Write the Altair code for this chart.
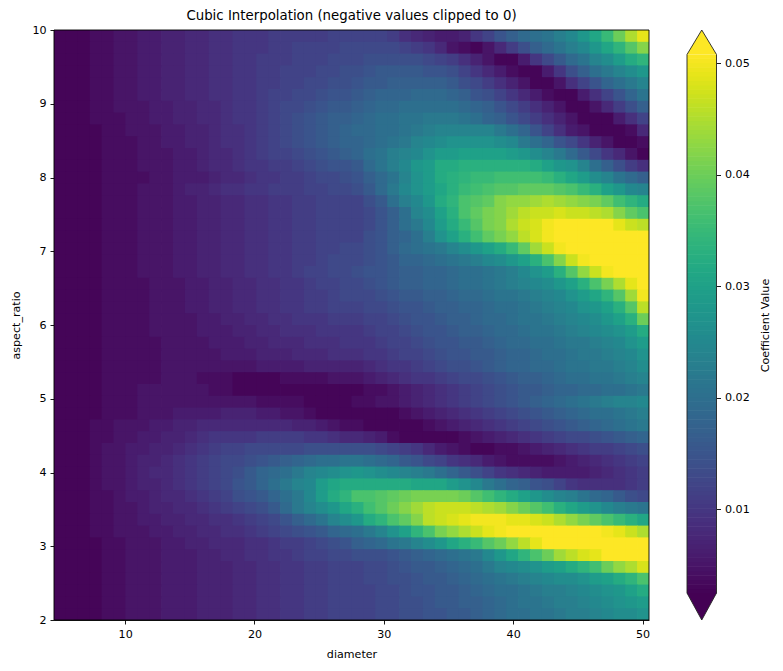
import altair as alt
import numpy as np
import pandas as pd

FONT = "DejaVu Sans"
title_text = "Cubic Interpolation (negative values clipped to 0)"
bar_title = "Coefficient Value"
x_ticks = [10, 20, 30, 40, 50]
y_ticks = [2, 3, 4, 5, 6, 7, 8, 9, 10]
bar_ticks = [0.01, 0.02, 0.03, 0.04, 0.05]
vmin, vmax = 0.00247, 0.0508
bar_low, bar_high = 0.00005, 0.053

# Coefficient values in thousandths, top row (aspect_ratio about 10) first,
# left column (diameter about 5) first.
rows = [
[3,3,3,4,4,5,5,6,6,7,7,8,8,9,9,10,10,10,11,11,11,11,11,12,12, 12,12,12,11,9,8,7,6,6,7,10,12,15,17,19,20,21,23,25,28,31,35,40,45,49],
[3,3,3,4,4,5,5,6,6,7,7,8,8,9,9,10,10,10,11,11,12,12,12,12,13, 13,13,13,13,12,11,10,8,5,4,3,5,8,11,14,17,19,21,23,25,28,31,34,38,42],
[3,3,3,4,4,5,5,6,6,7,7,8,8,9,9,10,10,11,11,11,12,12,12,13,13, 13,14,14,14,14,14,13,12,11,9,7,5,3,3,6,10,13,16,19,21,24,26,29,32,34],
[3,3,3,4,4,5,5,6,6,7,7,8,8,9,9,10,10,11,11,12,12,12,13,13,14, 14,15,16,16,16,16,15,15,14,12,10,8,6,4,3,3,6,10,14,17,20,22,24,26,28],
[3,3,3,4,4,5,5,6,6,7,7,8,8,9,9,10,10,11,11,12,12,13,13,14,14, 15,16,16,17,17,17,17,17,16,14,13,11,9,7,5,3,3,5,9,12,15,18,20,22,24],
[3,3,3,4,4,5,5,6,6,7,7,8,8,9,9,10,10,11,12,12,13,13,14,15,15, 16,17,18,18,18,19,19,19,18,17,15,14,12,10,8,6,4,3,3,6,9,12,15,18,21],
[3,3,3,4,4,5,5,5,6,6,7,7,8,8,9,10,10,11,12,13,13,14,15,16,16, 17,18,19,19,20,20,20,20,20,19,18,17,15,13,11,9,7,5,3,3,5,8,11,14,17],
[3,3,3,4,4,4,5,5,6,6,7,7,8,8,9,10,10,11,12,13,14,15,16,17,17, 18,19,20,20,21,21,22,22,22,21,20,18,17,15,13,11,9,7,5,3,3,3,6,9,12],
[3,3,3,3,4,4,5,5,5,6,6,7,7,8,9,9,10,11,12,13,14,15,16,17,18, 19,19,20,20,21,22,23,24,24,24,24,24,22,20,18,15,12,9,6,5,3,3,3,4,8],
[3,3,3,3,4,4,4,5,5,6,6,7,7,8,9,9,10,11,12,13,14,15,16,17,18, 18,19,20,21,22,24,25,26,27,27,27,27,26,25,22,20,18,15,13,10,7,5,3,3,4],
[3,3,3,3,4,4,4,5,5,5,6,6,7,8,8,9,10,11,12,12,13,14,15,16,17, 18,20,21,23,24,25,27,29,29,30,30,30,30,29,28,26,24,22,19,16,13,10,8,5,3],
[3,3,3,3,4,4,4,5,5,5,6,6,7,8,8,9,10,10,11,11,12,13,14,15,15, 16,19,21,23,25,28,29,32,32,33,33,33,33,33,33,32,30,28,27,24,20,17,14,11,9],
[3,3,3,3,4,4,4,4,5,5,6,6,6,7,8,8,9,10,10,11,11,12,13,13,14, 15,17,19,21,24,27,29,32,33,34,35,35,36,36,36,36,35,33,31,29,26,24,21,19,17],
[3,3,3,3,4,4,4,5,5,5,6,7,7,8,9,9,10,10,11,11,11,12,12,13,13, 14,16,19,22,25,27,29,31,33,35,36,37,38,38,39,39,39,38,37,35,33,30,28,25,24],
[3,3,3,3,4,4,4,5,5,5,6,6,7,7,8,8,9,9,10,10,11,11,12,12,12, 12,14,16,20,23,25,28,32,34,37,38,39,42,43,43,44,45,44,43,42,41,39,36,34,32],
[3,3,3,3,4,4,4,5,5,5,6,6,7,7,8,8,9,9,10,10,11,11,12,12,12, 12,13,15,17,20,24,26,30,33,37,39,41,42,44,46,47,47,48,47,47,46,45,42,39,37],
[3,3,3,3,4,4,4,5,5,5,6,6,7,7,8,8,9,9,10,10,11,11,12,12,12, 12,13,15,17,20,22,25,29,32,35,38,41,42,45,47,48,50,52,52,52,52,51,49,47,46],
[3,3,3,3,4,4,4,5,5,5,6,6,7,7,8,8,9,9,10,10,11,11,12,12,12, 12,14,15,17,18,20,23,27,30,33,36,39,41,43,46,48,50,52,52,52,52,52,52,52,52],
[3,3,3,3,4,4,4,5,5,5,6,6,7,7,8,8,9,9,10,10,11,11,12,12,13, 13,14,15,17,19,20,21,22,24,26,28,30,32,35,39,44,47,50,52,52,52,52,52,52,52],
[3,3,3,3,4,4,4,5,5,5,6,6,7,7,8,8,9,9,10,10,11,11,12,13,13, 13,14,15,16,18,18,19,20,21,22,23,25,26,28,30,33,37,42,47,50,52,52,52,52,52],
[3,3,3,3,4,4,4,5,5,5,6,6,7,7,8,8,9,9,10,10,11,12,12,13,13, 14,15,15,16,17,17,18,18,19,20,20,21,22,23,25,27,29,33,38,43,47,50,52,52,52],
[3,3,3,3,4,4,4,4,5,5,5,6,6,7,7,8,8,9,9,10,10,11,12,12,13, 13,14,15,16,17,17,18,18,19,20,20,21,22,23,24,25,26,28,30,33,37,41,45,49,52],
[3,3,3,3,4,4,4,4,5,5,5,6,6,7,7,8,8,9,9,10,10,11,11,12,13, 13,13,14,15,16,16,17,17,18,19,19,20,21,21,22,23,24,25,27,29,31,34,38,44,50],
[3,3,3,3,4,4,4,4,5,5,5,6,6,7,7,8,8,9,9,10,10,11,11,12,12, 12,13,13,14,15,15,16,17,17,18,18,19,20,20,21,22,23,24,25,27,28,30,33,38,46],
[3,3,3,3,4,4,4,4,5,5,5,5,6,6,7,7,8,8,9,9,10,10,10,11,11, 11,12,12,13,14,15,15,16,17,17,18,19,19,20,21,21,22,23,24,25,26,28,30,33,40],
[3,3,3,3,4,4,4,4,5,5,5,5,6,6,6,7,7,8,8,9,9,9,10,10,10, 10,11,12,12,13,14,15,15,16,17,17,18,19,19,20,21,21,22,23,24,25,26,27,29,32],
[3,3,3,3,4,4,4,4,4,5,5,5,5,6,6,6,7,7,8,8,8,9,9,9,10, 10,10,11,12,12,13,14,15,15,16,16,17,18,19,19,20,20,21,22,22,23,24,25,27,29],
[3,3,3,3,4,4,4,4,4,5,5,5,5,5,6,6,6,7,7,7,8,8,8,9,9, 9,10,10,11,12,12,13,14,15,15,16,16,17,18,18,19,20,20,21,22,22,23,24,25,27],
[3,3,3,3,4,4,4,4,4,5,5,5,5,5,5,5,5,6,6,6,6,7,7,7,7, 7,8,9,10,10,11,12,13,14,14,15,16,17,18,18,19,19,20,21,21,22,22,23,24,26],
[3,3,3,3,4,4,4,4,4,5,5,5,4,4,4,3,3,3,3,4,4,4,4,5,5, 5,6,7,8,9,10,10,11,12,13,13,14,15,16,17,17,18,19,20,20,21,21,22,23,24],
[3,3,3,3,4,4,4,5,5,5,5,5,5,4,4,3,3,3,3,3,3,3,3,3,3, 3,4,4,5,6,7,8,9,10,11,12,13,14,15,16,16,17,18,18,19,19,20,20,21,22],
[3,3,3,3,4,4,4,5,5,5,5,5,5,5,5,5,5,4,4,4,4,3,3,3,3, 4,4,5,5,6,7,8,9,10,11,12,13,14,15,16,17,18,19,20,21,22,23,24,24,25],
[3,3,3,3,4,4,4,5,5,5,6,6,6,6,7,7,7,6,6,5,5,4,3,3,3, 3,3,3,3,4,5,6,7,8,9,10,11,12,13,14,15,16,17,18,19,20,20,21,22,23],
[3,3,3,4,4,5,5,5,6,6,7,7,8,8,8,8,8,8,8,8,7,7,6,5,4, 4,3,3,3,3,3,4,5,6,7,8,9,10,11,12,13,14,15,16,17,18,19,20,21,22],
[3,3,3,4,4,5,5,6,6,7,7,8,9,10,10,10,10,11,11,11,11,10,10,9,8, 8,7,6,4,3,3,3,3,3,4,5,6,7,8,9,10,11,12,13,13,14,15,16,17,18],
[3,3,3,4,5,5,6,6,7,7,8,9,10,11,12,12,13,13,13,13,13,14,14,14,14, 14,14,13,12,11,10,8,6,5,4,3,3,4,4,5,6,7,8,9,10,11,11,12,13,14],
[3,3,3,4,5,5,6,7,7,8,9,10,11,12,13,13,14,15,16,17,18,19,20,20,21, 21,20,19,18,16,15,13,12,10,9,8,6,5,4,4,4,4,5,6,7,8,9,10,11,12],
[3,3,3,4,5,5,6,7,8,8,9,10,11,12,13,14,16,18,19,20,22,24,25,26,27, 28,27,26,25,24,23,22,20,18,16,14,12,10,9,8,7,6,6,6,6,7,8,9,10,11],
[3,3,3,4,5,5,6,7,7,8,9,10,11,12,13,15,16,18,20,22,24,25,29,31,32, 32,32,32,32,32,31,31,31,29,27,25,22,20,18,17,15,14,12,10,9,9,9,9,10,11],
[3,3,3,4,4,5,6,6,7,8,8,9,10,11,12,14,15,16,18,20,22,25,29,32,34, 37,37,38,39,40,41,41,41,41,40,38,36,34,32,30,28,26,24,23,21,19,18,16,14,13],
[3,3,3,4,4,5,5,6,7,7,8,8,9,10,11,12,13,14,16,19,22,24,26,28,31, 33,36,38,40,42,44,46,47,47,47,46,45,44,42,40,38,36,33,31,29,27,25,23,22,21],
[3,3,3,4,4,5,5,6,6,7,7,8,8,9,9,10,11,12,13,15,17,19,21,24,26, 28,32,34,37,39,42,46,47,48,49,50,50,50,49,49,48,47,45,43,41,39,37,35,33,31],
[3,3,3,4,4,5,5,5,6,6,7,7,8,8,9,9,10,11,12,13,14,15,16,18,19, 20,22,24,27,30,34,37,41,43,45,47,49,50,52,52,52,52,52,52,51,51,50,49,47,45],
[3,3,3,3,4,4,5,5,5,6,6,7,7,8,8,8,9,9,10,11,11,12,13,14,15, 17,18,19,21,22,24,26,28,31,33,35,38,40,43,46,49,51,52,52,52,52,52,52,52,52],
[3,3,3,3,4,4,5,5,5,6,6,6,7,7,8,8,9,9,10,10,11,12,12,13,13, 14,14,14,15,16,17,18,19,20,21,22,25,28,31,34,37,40,44,46,48,49,51,52,52,52],
[3,3,3,3,4,4,5,5,5,6,6,6,7,7,7,8,8,9,9,10,10,11,11,12,12, 12,13,13,14,15,16,16,17,18,19,20,22,24,25,26,27,29,30,32,34,36,40,43,45,48],
[3,3,3,3,4,4,5,5,5,6,6,6,7,7,7,8,8,9,9,10,10,11,11,12,12, 12,13,13,14,14,15,16,16,17,18,19,20,21,22,23,24,25,26,26,27,29,30,32,34,37],
[3,3,3,3,4,4,5,5,5,6,6,6,7,7,7,8,8,9,9,10,10,11,11,12,12, 12,12,13,13,14,15,15,16,16,17,18,19,20,20,21,22,23,23,24,25,26,27,28,30,32],
[3,3,3,3,4,4,5,5,5,6,6,6,7,7,7,8,8,9,9,10,10,11,11,12,12, 12,12,13,13,14,14,15,16,16,17,17,18,19,20,21,21,22,23,23,24,25,26,27,28,29],
[3,3,3,3,4,4,5,5,5,6,6,6,7,7,7,8,8,9,9,10,10,11,11,12,12, 12,12,13,13,14,14,15,15,16,16,17,18,19,20,20,21,21,22,23,23,24,25,26,26,27],
]

n_rows, n_cols = len(rows), len(rows[0])
x_edges = np.linspace(4.5, 50.5, n_cols + 1)
y_edges = np.linspace(10, 2, n_rows + 1)
overlap_x, overlap_y = 0.06, 0.03

cells = pd.DataFrame(
    [
        {
            "x0": x_edges[c], "x1": x_edges[c + 1] + overlap_x,
            "y0": y_edges[r + 1] - overlap_y, "y1": y_edges[r],
            "v": rows[r][c] * 0.001,
        }
        for r in range(n_rows)
        for c in range(n_cols)
    ]
)

color_scale = alt.Scale(scheme="viridis", domain=[vmin, vmax], clamp=True)
x_scale = alt.Scale(domain=[4.5, 50.5], nice=False, zero=False)
y_scale = alt.Scale(domain=[2, 10], nice=False, zero=False)

axis_style = dict(
    grid=False, labelFont=FONT, labelFontSize=11.1, titleFont=FONT, titleFontSize=11.1,
    titleFontWeight="normal", labelColor="black", titleColor="black", tickColor="black",
    domainColor="black", tickSize=4, tickWidth=0.9, domainWidth=0.9, labelPadding=4,
)

heat = alt.Chart(cells).mark_rect(clip=True).encode(
    x=alt.X("x0:Q", scale=x_scale, title="diameter",
            axis=alt.Axis(values=x_ticks, format="d", titlePadding=9, **axis_style)),
    x2="x1:Q",
    y=alt.Y("y0:Q", scale=y_scale, title="aspect_ratio",
            axis=alt.Axis(values=y_ticks, format="d", titlePadding=10, **axis_style)),
    y2="y1:Q",
    color=alt.Color("v:Q", scale=color_scale, legend=None),
)

frame = alt.Chart(pd.DataFrame({"x0": [4.5], "x1": [50.5], "y0": [2], "y1": [10]})).mark_rect(
    fill="transparent", stroke="black", strokeWidth=0.9
).encode(x=alt.X("x0:Q", scale=x_scale), x2="x1:Q", y=alt.Y("y0:Q", scale=y_scale), y2="y1:Q")

main = (heat + frame).properties(
    width=595, height=590,
    title=alt.TitleParams(title_text, font=FONT, fontSize=13.33, fontWeight="normal",
                          color="black", anchor="middle", offset=2),
)

# Colour bar
step = 0.0004
bar_levels = np.arange(vmin, vmax, step)
bar = pd.DataFrame({"y0": bar_levels - 0.00005, "y1": np.minimum(bar_levels + step, vmax),
                    "v": bar_levels + step / 2, "x0": 0.0, "x1": 1.0})
bar_y = alt.Scale(domain=[bar_low, bar_high], nice=False, zero=False)
bar_x = alt.Scale(domain=[0, 1], nice=False)

bar_axis = alt.Axis(values=bar_ticks, format=".2f", orient="right", domain=False,
                    titleAngle=270, titleBaseline="bottom", titlePadding=21,
                    **{k: v for k, v in axis_style.items() if k not in ("domainColor", "domainWidth")})

bar_rect = alt.Chart(bar).mark_rect().encode(
    x=alt.X("x0:Q", scale=bar_x, axis=None),
    x2="x1:Q",
    y=alt.Y("y0:Q", scale=bar_y, title=bar_title, axis=bar_axis),
    y2="y1:Q",
    color=alt.Color("v:Q", scale=color_scale, legend=None),
)

tri_top = pd.DataFrame({"y": [vmax, bar_high], "a": [0.0, 0.5], "b": [1.0, 0.5]})
tri_bot = pd.DataFrame({"y": [bar_low, vmin], "a": [0.5, 0.0], "b": [0.5, 1.0]})
top = alt.Chart(tri_top).mark_area(orient="horizontal", color="#fde725").encode(
    x=alt.X("a:Q", scale=bar_x, axis=None), x2="b:Q", y=alt.Y("y:Q", scale=bar_y, title=bar_title))
bot = alt.Chart(tri_bot).mark_area(orient="horizontal", color="#440154").encode(
    x=alt.X("a:Q", scale=bar_x, axis=None), x2="b:Q", y=alt.Y("y:Q", scale=bar_y, title=bar_title))

outline = pd.DataFrame({
    "o": [0, 1, 2, 3, 4, 5, 6],
    "x": [0.0, 0.5, 1.0, 1.0, 0.5, 0.0, 0.0],
    "y": [vmin, bar_low, vmin, vmax, bar_high, vmax, vmin],
})
edge = alt.Chart(outline).mark_line(color="#222222", strokeWidth=0.9).encode(
    x=alt.X("x:Q", scale=bar_x, axis=None),
    y=alt.Y("y:Q", scale=bar_y, title=bar_title),
    order="o:Q",
)

colorbar = alt.layer(bar_rect, top, bot, edge).properties(width=29.5, height=590)

chart = (
    alt.hconcat(main, colorbar, spacing=35)
    .resolve_scale(color="independent")
    .properties(padding={"left": 2, "top": 0, "right": 2, "bottom": 2}, background="white")
    .configure_view(stroke=None)
)

chart.save("out.html", embed_options={"renderer": "svg", "actions": False})
